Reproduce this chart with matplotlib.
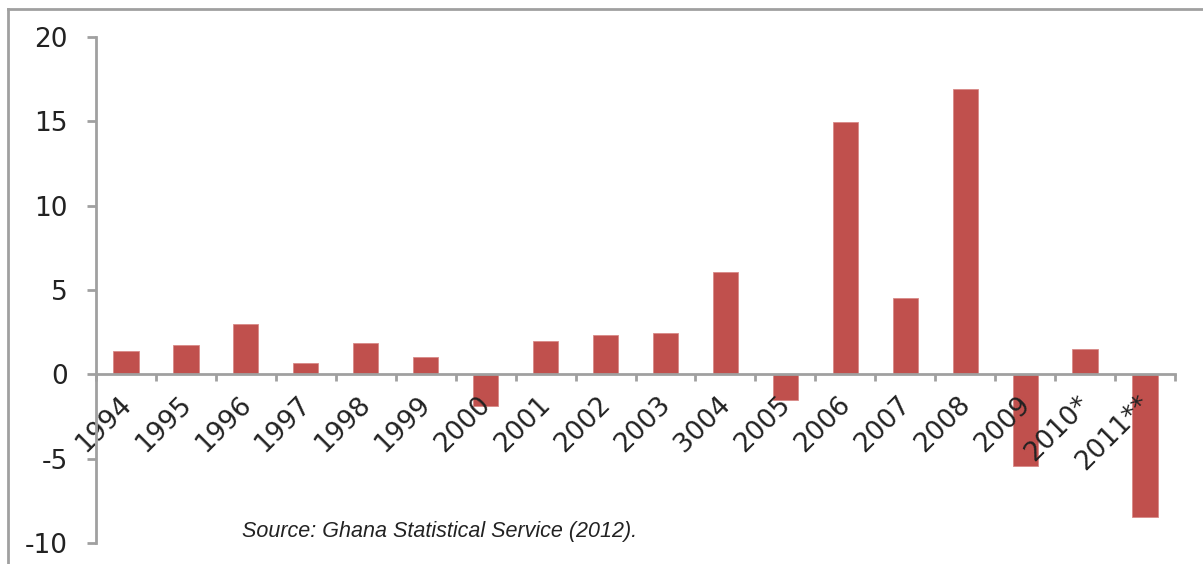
import matplotlib.pyplot as plt
from matplotlib.lines import Line2D
from matplotlib.transforms import ScaledTranslation
import numpy as np

plt.rcParams['axes.unicode_minus'] = False

# annual values, per cent
years = ['1994', '1995', '1996', '1997', '1998', '1999', '2000', '2001', '2002',
         '2003', '3004', '2005', '2006', '2007', '2008', '2009', '2010*', '2011**']
values = [1.4, 1.75, 3.0, 0.7, 1.85, 1.05, -1.85, 1.95, 2.35,
          2.45, 6.05, -1.5, 14.95, 4.55, 16.9, -5.45, 1.5, -8.45]

source = 'Source: Ghana Statistical Service (2012).'

bar_color = '#C0504D'
axis_color = '#A0A0A0'
text_color = '#222222'

fig = plt.figure(figsize=(12.03, 5.64), dpi=100)
ax = fig.add_axes([96 / 1203, 21 / 564, (1175 - 96) / 1203, 506 / 564])

x = np.arange(len(years))
ax.bar(x, values, width=0.42, color=bar_color, edgecolor='#D98A88', linewidth=0.6)

ax.set_xlim(-0.5, len(years) - 0.5)
ax.set_ylim(-10, 20)
ax.set_yticks([-10, -5, 0, 5, 10, 15, 20])

# category axis sits on zero, with tick marks between categories
for side in ['top', 'right']:
    ax.spines[side].set_visible(False)
ax.spines['bottom'].set_position(('data', 0))
ax.spines['bottom'].set_color(axis_color)
ax.spines['bottom'].set_linewidth(2)
ax.spines['left'].set_color(axis_color)
ax.spines['left'].set_linewidth(2)

ax.set_xticks(x)
ax.set_xticklabels(years, rotation=45, ha='right', va='top',
                   rotation_mode='anchor', fontsize=19, color=text_color)
ax.set_xticks(np.arange(len(years) + 1) - 0.5, minor=True)
ax.tick_params(axis='x', which='major', length=0, pad=12)
ax.tick_params(axis='x', which='minor', length=5, width=2, color=axis_color,
               direction='out')
ax.tick_params(axis='y', length=6.5, width=2, color=axis_color,
               labelsize=19, labelcolor=text_color, pad=14)

# nudge the slanted year labels a little to the left
shift = ScaledTranslation(-8 / 100, 0, fig.dpi_scale_trans)
for lab in ax.get_xticklabels():
    lab.set_transform(lab.get_transform() + shift)

ax.text(242, 564 - 532, source, transform=None, fontsize=15.5, style='italic',
        family='Liberation Sans', color=text_color, va='center', ha='left')

# outer frame around the chart area
fig.add_artist(Line2D([8 / 1203, 8 / 1203], [-0.1, 1 - 9 / 564],
                      transform=fig.transFigure, color=axis_color, lw=2))
fig.add_artist(Line2D([8 / 1203, 1.1], [1 - 9 / 564, 1 - 9 / 564],
                      transform=fig.transFigure, color=axis_color, lw=2))

fig.savefig('out.png', dpi=100, facecolor='white')
